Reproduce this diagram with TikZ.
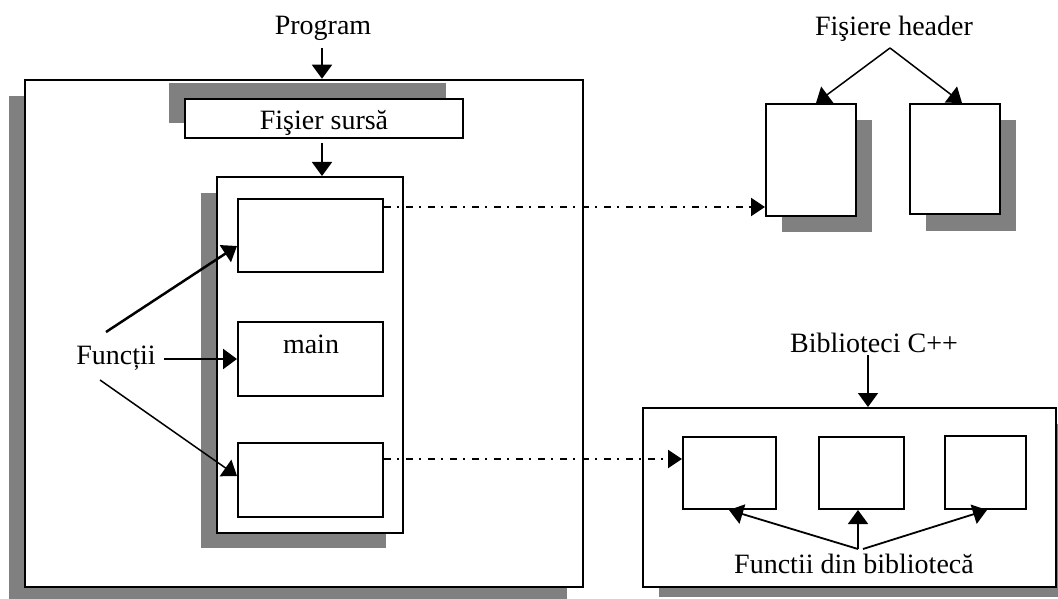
\documentclass[tikz,border=0pt]{standalone}
\usepackage{fontspec}
\setmainfont{Liberation Serif}
\usetikzlibrary{arrows.meta,fit}
\definecolor{shadowgray}{HTML}{808080}
\tikzset{
  box/.style={draw, line width=2pt, fill=white, inner sep=0pt},
  bigbox/.style={box, line width=2.5pt},
  shade/.style={fill=shadowgray},
  txt/.style={inner sep=0pt, font=\fontsize{28}{32}\selectfont},
  arr/.style={-{Triangle[length=14pt,width=20pt]}, line width=1.8pt},
  thinarr/.style={arr, line width=1.5pt},
  thickarr/.style={arr, line width=2.5pt},
  dashdot/.style={-{Triangle[length=14pt,width=18pt]}, line width=2pt,
    dash pattern=on 7pt off 6pt on 2pt off 7pt}
}
\begin{document}
\begin{tikzpicture}[x=1pt,y=-1pt]
\useasboundingbox (0,0) rectangle (1058,599);

% program frame with its shadow
\fill[shade] (9,96) rectangle (567,599);
\node[bigbox, fit={(25,80) (583,587)}] (prog) {};

% source file bar
\fill[shade] (169,83) rectangle (446,123);
\node[box, fit={(185,99) (463,138)}] (src) {};
\node[txt, anchor=base] (srctxt) at (324,130) {Fişier sursă};

% column of functions
\fill[shade] (201,193) rectangle (386,548);
\node[box, fit={(217,177) (403,533)}] (col) {};
\node[box, fit={(238,199) (383,272)}] (fa) {};
\node[box, fit={(238,322) (383,396)}] (fm) {};
\node[box, fit={(238,443) (383,517)}] (fb) {};
\node[txt, anchor=base] (maintxt) at (311,353) {main};

% header files
\fill[shade] (782,120) rectangle (872,232);
\node[box, fit={(766,104) (856,216)}] (ha) {};
\fill[shade] (926,120) rectangle (1016,231);
\node[box, fit={(910,104) (1000,214)}] (hb) {};

% C++ library frame
\fill[shade] (659,424) rectangle (1058,597);
\node[box, fit={(643,408) (1056,587)}] (lib) {};
\node[box, fit={(683,437) (776,509)}] (la) {};
\node[box, fit={(819,437) (904,509)}] (lb) {};
\node[box, fit={(945,436) (1026,509)}] (lc) {};

% labels
\node[txt, anchor=base] (progtxt) at (323,35) {Program};
\node[txt, anchor=base] (hdrtxt) at (894,36) {Fişiere header};
\node[txt, anchor=base] (fntxt) at (116,364) {Funcții};
\node[txt, anchor=base] (cpptxt) at (874,352) {Biblioteci C++};
\node[txt, anchor=base] (libtxt) at (854,573) {Functii din bibliotecă};

% free ends of the connectors
\coordinate (progA) at (322,48);
\coordinate (srcA) at (322,143);
\coordinate (fnA) at (106,332);
\coordinate (fnB) at (164,359);
\coordinate (fnC) at (100,380);
\coordinate (hdrA) at (890,48);
\coordinate (cppA) at (868,355);
\coordinate (libA) at (858,549);
\coordinate (libB) at (863,549);

% flow arrows
\draw[arr] (progA) -- (progA |- prog.north);
\draw[arr] (srcA) -- (srcA |- col.north);
\draw[thickarr] (fnA) -- ([yshift=-48pt]fa.north west);
\draw[thickarr] (fnB) -- (fnB -| fm.west);
\draw[thinarr] (fnC) -- ([yshift=-34pt]fb.north west);
\draw[thinarr] (hdrA) -- ([xshift=51pt]ha.north west);
\draw[thinarr] (hdrA) -- ([xshift=53pt]hb.north west);
\draw[arr] (cppA) -- (cppA |- lib.north);
\draw[arr] (libA) -- ([xshift=47pt]la.south west);
\draw[arr] (libA) -- (libA |- lb.south);
\draw[arr] (libB) -- ([xshift=43pt]lc.south west);

% links to headers and library
\draw[dashdot] ([yshift=-9pt]fa.north east) coordinate (dA) -- (dA -| ha.west);
\draw[dashdot] ([yshift=-17pt]fb.north east) coordinate (dB) -- (dB -| la.west);
\end{tikzpicture}
\end{document}
